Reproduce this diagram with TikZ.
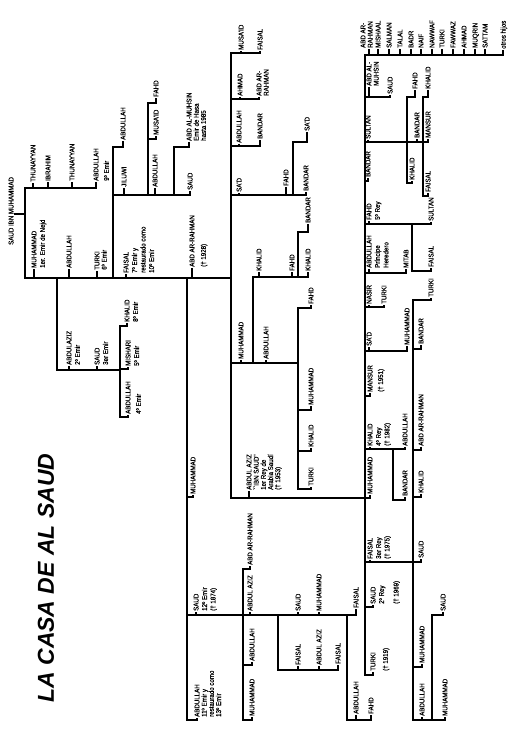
\documentclass[tikz,border=0pt]{standalone}
\usepackage{fontspec}
\setmainfont{Liberation Sans}
\newfontfamily\lblfam[FakeStretch=0.88,FakeBold=0.6]{Liberation Sans}
\newcommand\lblfont{\lblfam\fontsize{7}{8.5}\selectfont}
\newcommand\lbltight{\lblfam\fontsize{7}{7.2}\selectfont}
\tikzset{
  lab/.style={rotate=90,anchor=north west,inner sep=0pt,font=\lblfont,align=left},
  tight/.style={font=\lbltight},
  ln/.style={line width=1.7pt,line join=miter,line cap=rect},
  titlestyle/.style={rotate=90,inner sep=0pt,font=\fontsize{23}{23}\selectfont\bfseries\itshape},
}
\newcommand\nm[5][]{\node[lab,#1] (#2) at ({#3-2.6},#4) {#5};\coordinate (#2-f) at (#3,{#4+1.5});}
\begin{document}
\begin{tikzpicture}[x=1pt,y=-1pt]
\fill[white] (0,0) rectangle (515,750);
\useasboundingbox (0,0) rectangle (515,750);

\node[titlestyle] (title) at (46,578) {LA CASA DE AL SAUD};

% ---------- left part ----------
\nm{root}{11}{245}{SAUD IBN MUHAMMAD}
\nm{thuA}{33}{182}{THUNAYYAN}
\nm{ibr}{48}{181}{IBRAHIM}
\nm{thuB}{72}{181}{THUNAYYAN}
\nm{abNine}{96}{181}{ABDULLAH\\[2pt]9º Emir}
\nm{muhOne}{34}{268}{MUHAMMAD\\1er. Emir de Nejd}
\nm{abOne}{69}{268}{ABDULLAH}
\nm[tight]{turSix}{97}{270}{TURKI\\6º Emir}
\nm{faiSev}{126}{273}{FAISAL\\7º Emir y\\restaurado como\\10º Emir}
\nm{abrF}{192}{267}{ABD AR-RAHMAN\\[3pt](† 1928)}
\nm{abT}{123}{140}{ABDULLAH}
\nm{jil}{124}{187}{JILUWI}
\nm{abJ}{155}{187}{ABDULLAH}
\nm{musJ}{156}{135}{MUSA'ID}
\nm{fahJ}{156}{97}{FAHD}
\nm[tight]{muhs}{189}{141}{ABD AL-MUHSIN\\Emir de Hasa\\hasta 1985}
\nm{sauJ}{190}{190}{SAUD}
\nm{azTwo}{69}{365}{ABDULAZIZ\\2º Emir}
\nm{saThree}{97}{365}{SAUD\\3er Emir}
\nm{khEight}{127}{322}{KHALID\\8º Emir}
\nm{miFive}{128}{366}{MISHARI\\5º Emir}
\nm{abFour}{128}{414}{ABDULLAH\\[2pt]4º Emir}
\nm{muhF}{193}{494}{MUHAMMAD}
\nm{saTw}{196}{611}{SAUD\\12º Emir\\(† 1874)}
\nm[tight]{abEl}{197}{717}{ABDULLAH\\11º Emir y\\restaurado como\\13º Emir}
\nm{azS}{250}{611}{ABDUL AZIZ}
\nm{arS}{250}{565}{ABD AR-RAHMAN}
\nm{abS}{252}{661}{ABDULLAH}
\nm{muS}{252}{716}{MUHAMMAD}
\nm{saS}{298}{611}{SAUD}
\nm{muSb}{319}{611}{MUHAMMAD}
\nm{faSa}{298}{665}{FAISAL}
\nm{azSb}{319}{665}{ABDUL AZIZ}
\nm{faSb}{338}{664}{FAISAL}
\nm{faSc}{356}{608}{FAISAL}
\nm{abSb}{356}{714}{ABDULLAH}
\nm{fahS}{371}{714}{FAHD}

% ---------- Abd ar-Rahman's sons ----------
\nm{musA}{241}{50}{MUSA'ID}
\nm{faA}{260}{50}{FAISAL}
\nm{ahA}{240}{96}{AHMAD}
\nm[tight]{arA}{259}{96}{ABD AR-\\RAHMAN}
\nm{abA}{239}{143}{ABDULLAH}
\nm{baA}{260}{139}{BANDAR}
\nm{sdA}{239}{192}{SA'D}
\nm{fhA}{286}{186}{FAHD}
\nm{sdAb}{307}{131}{SA'D}
\nm{baAb}{306}{191}{BANDAR}
\nm{muA}{241}{359}{MUHAMMAD}
\nm{abAb}{266}{359}{ABDULLAH}
\nm{khA}{259}{271}{KHALID}
\nm{fhAb}{292}{271}{FAHD}
\nm{khAb}{308}{271}{KHALID}
\nm{baAc}{308}{223}{BANDAR}
\nm{fhAc}{311}{304}{FAHD}
\nm{muAb}{311}{405}{MUHAMMAD}
\nm{khAc}{311}{447}{KHALID}
\nm{tuA}{311}{486}{TURKI}
\nm[tight]{ibn}{249}{490}{ABDUL AZIZ\\``IBN SAUD''\\1er Rey de\\Arabia Saudí\\(† 1953)}

% ---------- Ibn Saud's sons ----------
\nm[tight]{rA}{363}{48}{ABD AR-\\RAHMAN}
\nm{rMi}{378}{48}{MISHAAL}
\nm{rSa}{389}{48}{SALMAN}
\nm{rTa}{400}{48}{TALAL}
\nm{rBa}{411}{48}{BADR}
\nm{rNa}{421}{48}{NAIF}
\nm{rNw}{432}{48}{NAWWAF}
\nm{rTu}{442}{48}{TURKI}
\nm{rFa}{453}{48}{FAWWAZ}
\nm{rAh}{464}{48}{AHMAD}
\nm{rMu}{475}{48}{MUQRIN}
\nm{rSt}{485}{48}{SATTAM}
\nm{rOt}{503}{49}{otros hijos}
\nm[tight]{amu}{369}{86}{ABD AL-\\MUHSIN}
\nm{saI}{390}{94}{SAUD}
\nm{sul}{368}{139}{SULTAN}
\nm{fhS}{415}{89}{FAHD}
\nm{baS}{417}{138}{BANDAR}
\nm{khS}{412}{180}{KHALID}
\nm{khB}{428}{89}{KHALID}
\nm{maB}{428}{138}{MANSUR}
\nm{faB}{428}{192}{FAISAL}
\nm{baI}{368}{177}{BANDAR}
\nm{fhI}{369}{220}{FAHD\\5º Rey}
\nm{suF}{431}{221}{SULTAN}
\nm{faF}{431}{267}{FAISAL}
\nm{abI}{369}{268}{ABDULLAH\\Príncipe\\Heredero}
\nm{mit}{406}{268}{MITAB}
\nm{nas}{369}{304}{NASIR}
\nm{tuN}{384}{304}{TURKI}
\nm{sdI}{369}{346}{SA'D}
\nm{muSd}{407}{345}{MUHAMMAD}
\nm{tuF}{431}{297}{TURKI}
\nm{baF}{421}{344}{BANDAR}
\nm{arF}{421}{446}{ABD AR-RAHMAN}
\nm{khF}{421}{493}{KHALID}
\nm{saF}{421}{558}{SAUD}
\nm{muF}{422}{663}{MUHAMMAD}
\nm{abF}{422}{716}{ABDULLAH}
\nm{saAF}{443}{611}{SAUD}
\nm{muAF}{445}{716}{MUHAMMAD}
\nm{man}{370}{392}{MANSUR\\[2pt](† 1951)}
\nm{khFour}{370}{446}{KHALID\\4º Rey\\(† 1982)}
\nm{abK}{405}{446}{ABDULLAH}
\nm{baK}{405}{496}{BANDAR}
\nm{muI}{370}{494}{MUHAMMAD}
\nm{faThree}{370}{559}{FAISAL\\3er Rey\\(† 1975)}
\nm{saTwo}{373}{604}{SAUD\\2º Rey\\[6pt](† 1969)}
\nm{tuNt}{373}{671}{TURKI\\[4pt](† 1919)}

% ================= connectors =================
\draw[ln] (15,214) -- (25,214);
\draw[ln] (25,278) -- (25,188) -- (96,188) -- (abNine-f);
\draw[ln] (33,188) -- (thuA-f);
\draw[ln] (48,188) -- (ibr-f);
\draw[ln] (72,188) -- (thuB-f);
\draw[ln] (25,278) -- (231,278);
\draw[ln] (34,278) -- (muhOne-f);
\draw[ln] (69,278) -- (abOne-f);
\draw[ln] (97,278) -- (turSix-f);
\draw[ln] (126,278) -- (faiSev-f);
\draw[ln] (192,278) -- (abrF-f);
\draw[ln] (57,278) -- (57,370) -- (120,370);
\draw[ln] (69,370) -- (azTwo-f);
\draw[ln] (97,370) -- (saThree-f);
\draw[ln] (khEight-f) |- (120,326) -- (120,417) -| (abFour-f);
\draw[ln] (120,369) -| (miFive-f);
\draw[ln] (abT-f) |- (113,147) -- (113,278);
\draw[ln] (113,195) -| (sauJ-f);
\draw[ln] (124,195) -- (jil-f);
\draw[ln] (155,195) -- (abJ-f);
\draw[ln] (fahJ-f) |- (148,103) -- (148,195);
\draw[ln] (148,139) -| (musJ-f);
\draw[ln] (muhs-f) |- (174,147) -- (174,195);
\draw[ln] (187,278) -- (187,720) -| (abEl-f);
\draw[ln] (187,497) -| (muhF-f);
\draw[ln] (187,615) -| (faSc-f);
\draw[ln] (196,615) -- (saTw-f);
\draw[ln] (250,615) -- (azS-f);
\draw[ln] (298,615) -- (saS-f);
\draw[ln] (319,615) -- (muSb-f);
\draw[ln] (muS-f) |- (243,720) -- (243,569) -| (arS-f);
\draw[ln] (243,665) -| (abS-f);
\draw[ln] (278,615) -- (278,670) -| (faSb-f);
\draw[ln] (298,670) -- (faSa-f);
\draw[ln] (319,670) -- (azSb-f);
\draw[ln] (347,615) -- (347,720) -| (fahS-f);
\draw[ln] (356,720) -- (abSb-f);

\draw[ln] (231,53) -- (231,498);
\draw[ln] (231,53) -| (faA-f);
\draw[ln] (241,53) -- (musA-f);
\draw[ln] (231,99) -| (arA-f);
\draw[ln] (240,99) -- (ahA-f);
\draw[ln] (231,146) -| (baA-f);
\draw[ln] (239,146) -- (abA-f);
\draw[ln] (231,195) -| (baAb-f);
\draw[ln] (239,195) -- (sdA-f);
\draw[ln] (286,195) -- (fhA-f);
\draw[ln] (293,195) -- (293,142) -| (sdAb-f);
\draw[ln] (231,363) -- (298,363);
\draw[ln] (241,363) -- (muA-f);
\draw[ln] (266,363) -- (abAb-f);
\draw[ln] (253,363) -- (253,277) -| (khAb-f);
\draw[ln] (259,277) -- (khA-f);
\draw[ln] (292,277) -- (fhAb-f);
\draw[ln] (298,277) -- (298,232) -| (baAc-f);
\draw[ln] (fhAc-f) |- (298,308) -- (298,489) -| (tuA-f);
\draw[ln] (298,410) -| (muAb-f);
\draw[ln] (298,451) -| (khAc-f);
\draw[ln] (231,498) -| (muI-f);
\draw[ln] (249,498) -- (ibn-f);

\draw[ln] (365,55) -- (365,675) -| (tuNt-f);
\draw[ln] (365,55) -| (rOt-f);
\draw[ln] (369,55) -- (369,50);
\foreach \n in {rMi,rSa,rTa,rBa,rNa,rNw,rTu,rFa,rAh,rMu,rSt}
  {\draw[ln] (\n-f) -- ++(0,5.5);}
\draw[ln] (365,97) -| (saI-f);
\draw[ln] (369,97) -- (amu-f);
\draw[ln] (365,142) -| (maB-f);
\draw[ln] (368,142) -- (sul-f);
\draw[ln] (417,142) -- (baS-f);
\draw[ln] (fhS-f) |- (407,97) -- (407,183) -| (khS-f);
\draw[ln] (khB-f) |- (423,97) -- (423,196) -| (faB-f);
\draw[ln] (365,181) -| (baI-f);
\draw[ln] (365,224) -| (suF-f);
\draw[ln] (369,224) -- (fhI-f);
\draw[ln] (412,224) -- (412,271) -| (faF-f);
\draw[ln] (365,273) -| (mit-f);
\draw[ln] (369,273) -- (abI-f);
\draw[ln] (365,307) -| (tuN-f);
\draw[ln] (369,307) -- (nas-f);
\draw[ln] (365,351) -| (muSd-f);
\draw[ln] (369,351) -- (sdI-f);
\draw[ln] (tuF-f) |- (413,300) -- (413,720) -| (muAF-f);
\draw[ln] (413,349) -| (baF-f);
\draw[ln] (413,450) -| (arF-f);
\draw[ln] (413,497) -| (khF-f);
\draw[ln] (413,667) -| (muF-f);
\draw[ln] (422,720) -- (abF-f);
\draw[ln] (432,720) -- (432,615) -| (saAF-f);
\draw[ln] (365,396) -| (man-f);
\draw[ln] (365,449) -| (abK-f);
\draw[ln] (370,449) -- (khFour-f);
\draw[ln] (393,449) -- (393,500) -| (baK-f);
\draw[ln] (365,562) -| (saF-f);
\draw[ln] (370,562) -- (faThree-f);
\draw[ln] (365,607) -| (saTwo-f);
\end{tikzpicture}
\end{document}
